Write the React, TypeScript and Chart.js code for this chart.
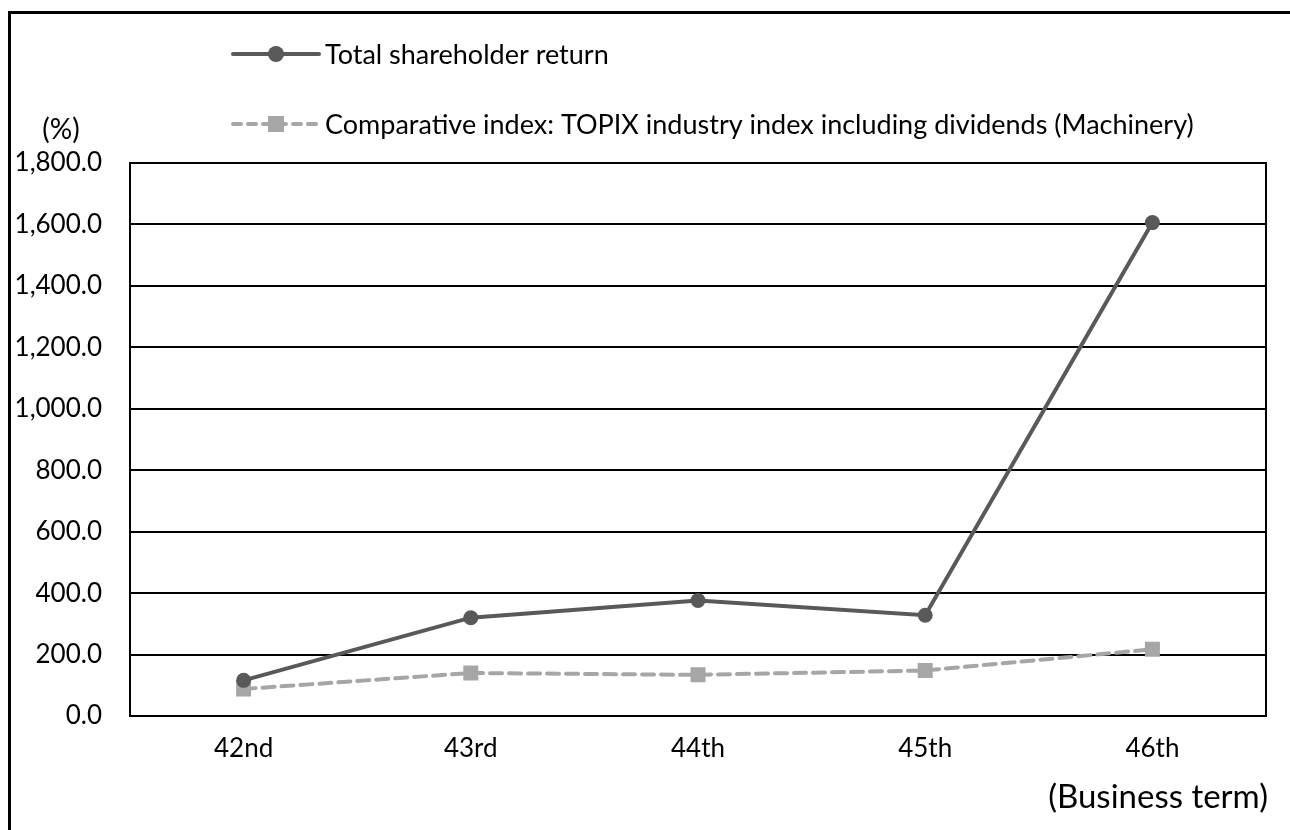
import React, { useEffect, useRef } from "react";
import { Chart, registerables } from "chart.js";

Chart.register(...registerables);

const categories = ["42nd", "43rd", "44th", "45th", "46th"];
const tsrValues = [116, 320, 376, 328, 1606];
const indexValues = [88, 140, 134, 148, 217];
const tsrLabel = "Total shareholder return";
const indexLabel = "Comparative index: TOPIX industry index including dividends (Machinery)";
const yUnitLabel = "(%)";
const xAxisLabel = "(Business term)";

const FONT = "Lato, 'Open Sans', sans-serif";
const TSR_COLOR = "#595959";
const IDX_COLOR = "#A6A6A6";

const decorPlugin = {
  id: "decor",
  afterDraw(chart: any) {
    const ctx = chart.ctx;
    const area = chart.chartArea;
    ctx.save();
    // plot border
    ctx.strokeStyle = "#000";
    ctx.lineWidth = 2;
    ctx.strokeRect(area.left, area.top, area.right - area.left, area.bottom - area.top);
    // outer frame (top & left visible)
    ctx.lineWidth = 3;
    ctx.beginPath();
    ctx.moveTo(9.5, 1000);
    ctx.lineTo(9.5, 12.5);
    ctx.lineTo(1400, 12.5);
    ctx.stroke();

    // unit labels
    ctx.fillStyle = "#000";
    ctx.font = `28px ${FONT}`;
    ctx.textBaseline = "middle";
    ctx.textAlign = "center";
    ctx.fillText(yUnitLabel, 61, 130);
    ctx.font = `33px ${FONT}`;
    ctx.textAlign = "right";
    ctx.fillText(xAxisLabel, 1268, 797);

    // legend
    const lx0 = 233, lx1 = 319, mx = 276;
    // row 1
    ctx.strokeStyle = TSR_COLOR;
    ctx.lineWidth = 4;
    ctx.lineCap = "round";
    ctx.setLineDash([]);
    ctx.beginPath();
    ctx.moveTo(lx0, 54);
    ctx.lineTo(lx1, 54);
    ctx.stroke();
    ctx.fillStyle = TSR_COLOR;
    ctx.beginPath();
    ctx.arc(mx, 54, 8, 0, Math.PI * 2);
    ctx.fill();
    // row 2
    ctx.strokeStyle = IDX_COLOR;
    ctx.setLineDash([8, 7]);
    ctx.beginPath();
    ctx.moveTo(lx0, 124);
    ctx.lineTo(lx1, 124);
    ctx.stroke();
    ctx.setLineDash([]);
    ctx.fillStyle = IDX_COLOR;
    ctx.fillRect(mx - 8, 124 - 8, 16, 16);

    ctx.fillStyle = "#000";
    ctx.font = `27px ${FONT}`;
    ctx.textAlign = "left";
    ctx.fillText(tsrLabel, 325, 55);
    ctx.fillText(indexLabel, 325, 125);
    ctx.restore();
  },
};

export default function App() {
  const ref = useRef<HTMLCanvasElement | null>(null);
  useEffect(() => {
    document.body.style.margin = "0";
    const canvas = ref.current;
    if (!canvas) return;
    const chart = new Chart(canvas, {
      type: "line",
      data: {
        labels: categories,
        datasets: [
          {
            label: tsrLabel,
            data: tsrValues,
            borderColor: TSR_COLOR,
            backgroundColor: TSR_COLOR,
            borderWidth: 4,
            pointStyle: "circle",
            pointRadius: 7.5,
            pointBorderWidth: 0,
            tension: 0,
          },
          {
            label: indexLabel,
            data: indexValues,
            borderColor: IDX_COLOR,
            backgroundColor: IDX_COLOR,
            borderWidth: 4,
            borderDash: [12, 7],
            borderCapStyle: "round",
            pointStyle: "rect",
            pointRadius: 10.6,
            pointBorderWidth: 0,
            tension: 0,
          },
        ],
      },
      options: {
        responsive: false,
        animation: false,
        events: [],
        layout: { padding: { left: 0, top: 163, right: 24, bottom: 0 } },
        plugins: { legend: { display: false }, tooltip: { enabled: false } },
        scales: {
          x: {
            offset: true,
            grid: { display: false, drawTicks: false },
            border: { display: true, color: "#000", width: 2 },
            ticks: { color: "#000", font: { family: FONT, size: 26 }, padding: 17, maxRotation: 0 },
            afterFit: (s: any) => { s.height = 114; },
          },
          y: {
            min: 0,
            max: 1800,
            grid: { color: "#000", lineWidth: 2, drawTicks: false },
            border: { display: true, color: "#000", width: 2 },
            ticks: {
              stepSize: 200,
              color: "#000",
              padding: 28,
              font: { family: FONT, size: 26 },
              callback: (v: any) => Number(v).toLocaleString("en-US", { minimumFractionDigits: 1, maximumFractionDigits: 1 }),
            },
            afterFit: (s: any) => { s.width = 130; },
          },
        },
      },
      plugins: [decorPlugin],
    });
    return () => chart.destroy();
  }, []);
  return (
    <div style={{ width: 1290, height: 830, background: "#fff" }}>
      <canvas ref={ref} width={1290} height={830} style={{ display: "block" }} />
    </div>
  );
}
